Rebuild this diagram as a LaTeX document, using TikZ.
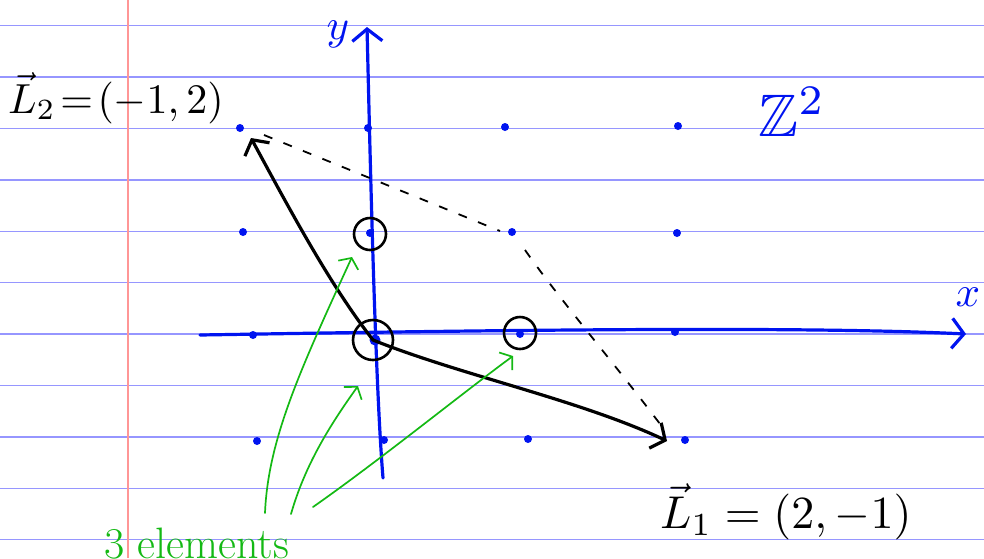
\documentclass[tikz,border=0pt]{standalone}
\usepackage{graphicx}
\usepackage{amssymb}
\usetikzlibrary{arrows.meta}
\definecolor{rule}{RGB}{150,150,255}
\definecolor{margin}{RGB}{255,150,150}
\definecolor{ink}{RGB}{0,20,240}
\definecolor{grn}{RGB}{20,185,20}
\tikzset{
  ruleline/.style={draw=rule,line width=1.3pt},
  gdot/.style={circle,fill=ink,inner sep=0pt,minimum size=8pt},
  axis/.style={draw=ink,line width=3.2pt,line cap=round,-{Straight Barb[length=12pt,width=30pt,line width=3.2pt]}},
  vec/.style={draw=black,line width=3.2pt,line cap=round,-{Straight Barb[length=11pt,width=28pt,line width=3.2pt]}},
  helper/.style={draw=black,line width=1.8pt,dash pattern=on 9pt off 12pt},
  ring/.style={circle,draw=black,line width=2.6pt,inner sep=0pt},
  note/.style={draw=grn,line width=1.7pt,line cap=round,-{Straight Barb[length=8pt,width=22pt,line width=1.7pt]}},
  lbl/.style={inner sep=0pt}
}
\begin{document}
\begin{tikzpicture}[x=1pt,y=-1pt]
\useasboundingbox[fill=white] (0,0) rectangle (984,558);
% ruled paper
\foreach \k in {0,...,10}{
  \draw[ruleline] (0,{25.7+51.4*\k}) -- (984,{25.7+51.4*\k});
}
\draw[draw=margin,line width=1.3pt] (128,0) -- (128,558);
% lattice points
\node[gdot] (p11) at (240,128) {};
\node[gdot] (p21) at (368,128) {};
\node[gdot] (p31) at (505,127) {};
\node[gdot] (p41) at (678,126) {};
\node[gdot] (p12) at (243,232) {};
\node[gdot] (p22) at (370,233) {};
\node[gdot] (p32) at (512,232) {};
\node[gdot] (p42) at (677,233) {};
\node[gdot] (p13) at (253,335) {};
\node[gdot,minimum size=11pt] (p23) at (375,340) {};
\node[gdot] (p33) at (520,334) {};
\node[gdot] (p43) at (675,332) {};
\node[gdot] (p14) at (257,441) {};
\node[gdot] (p24) at (384,440) {};
\node[gdot] (p34) at (528,439) {};
\node[gdot] (p44) at (685,440) {};
% axes
\coordinate (xs) at (200,335);
\coordinate (xe) at (966,334);
\coordinate (ys) at (383,478);
\coordinate (ye) at (367,27);
\draw[axis] (xs) .. controls (500,330) and (800,326) .. (xe);
\draw[axis] (ys) .. controls (375,380) and (370,150) .. (ye);
\node[lbl,text=ink] (xl) at (968,297) {\scalebox{4.3}{$x$}};
\node[lbl,text=ink] (yl) at (338,34) {\scalebox{4.3}{$y$}};
\node[lbl,text=ink] (zz) at (792,112) {\scalebox{6}{$\mathbb{Z}^2$}};
% circles
\node[ring,minimum size=32pt] (c1) at (370,234) {};
\node[ring,minimum size=40pt] (c0) at (373,340) {};
\node[ring,minimum size=32pt] (c2) at (520,333) {};
% vectors
\coordinate (tl2) at (251,138);
\coordinate (tl1) at (667,441);
\draw[vec] (c0.center) .. controls (330,285) and (290,210) .. (tl2);
\draw[vec] (c0.center) .. controls (460,375) and (580,400) .. (tl1);
% dashed parallelogram sides
\coordinate (d1) at (264,135);
\coordinate (d2) at (500,231);
\coordinate (d3) at (525,250);
\coordinate (d4) at (666,432);
\draw[helper] (d1) -- (d2);
\draw[helper] (d3) .. controls (560,300) and (620,370) .. (d4);
% labels
\node[lbl,anchor=west] (L2) at (8,98) {\scalebox{4.2}{$\vec{L}_2\!=\!(-1,2)$}};
\node[lbl,anchor=west] (L1) at (660,512) {\scalebox{4.6}{$\vec{L}_1 = (2,-1)$}};
% green annotation arrows
\coordinate (g1) at (265,513);
\coordinate (g2) at (291,514);
\coordinate (g3) at (313,507);
\coordinate (h1) at (352,257);
\coordinate (h2) at (358,386);
\coordinate (h3) at (513,356);
\draw[note] (g1) .. controls (268,440) and (300,370) .. (h1);
\draw[note] (g2) .. controls (305,465) and (330,425) .. (h2);
\draw[note] (g3) .. controls (380,460) and (460,395) .. (h3);
\begin{scope}
\clip (0,0) rectangle (984,558);
\node[lbl,text=grn,font=\fontsize{44}{44}\selectfont,anchor=north west] (el) at (104,528) {3 elements};
\end{scope}
\end{tikzpicture}
\end{document}
